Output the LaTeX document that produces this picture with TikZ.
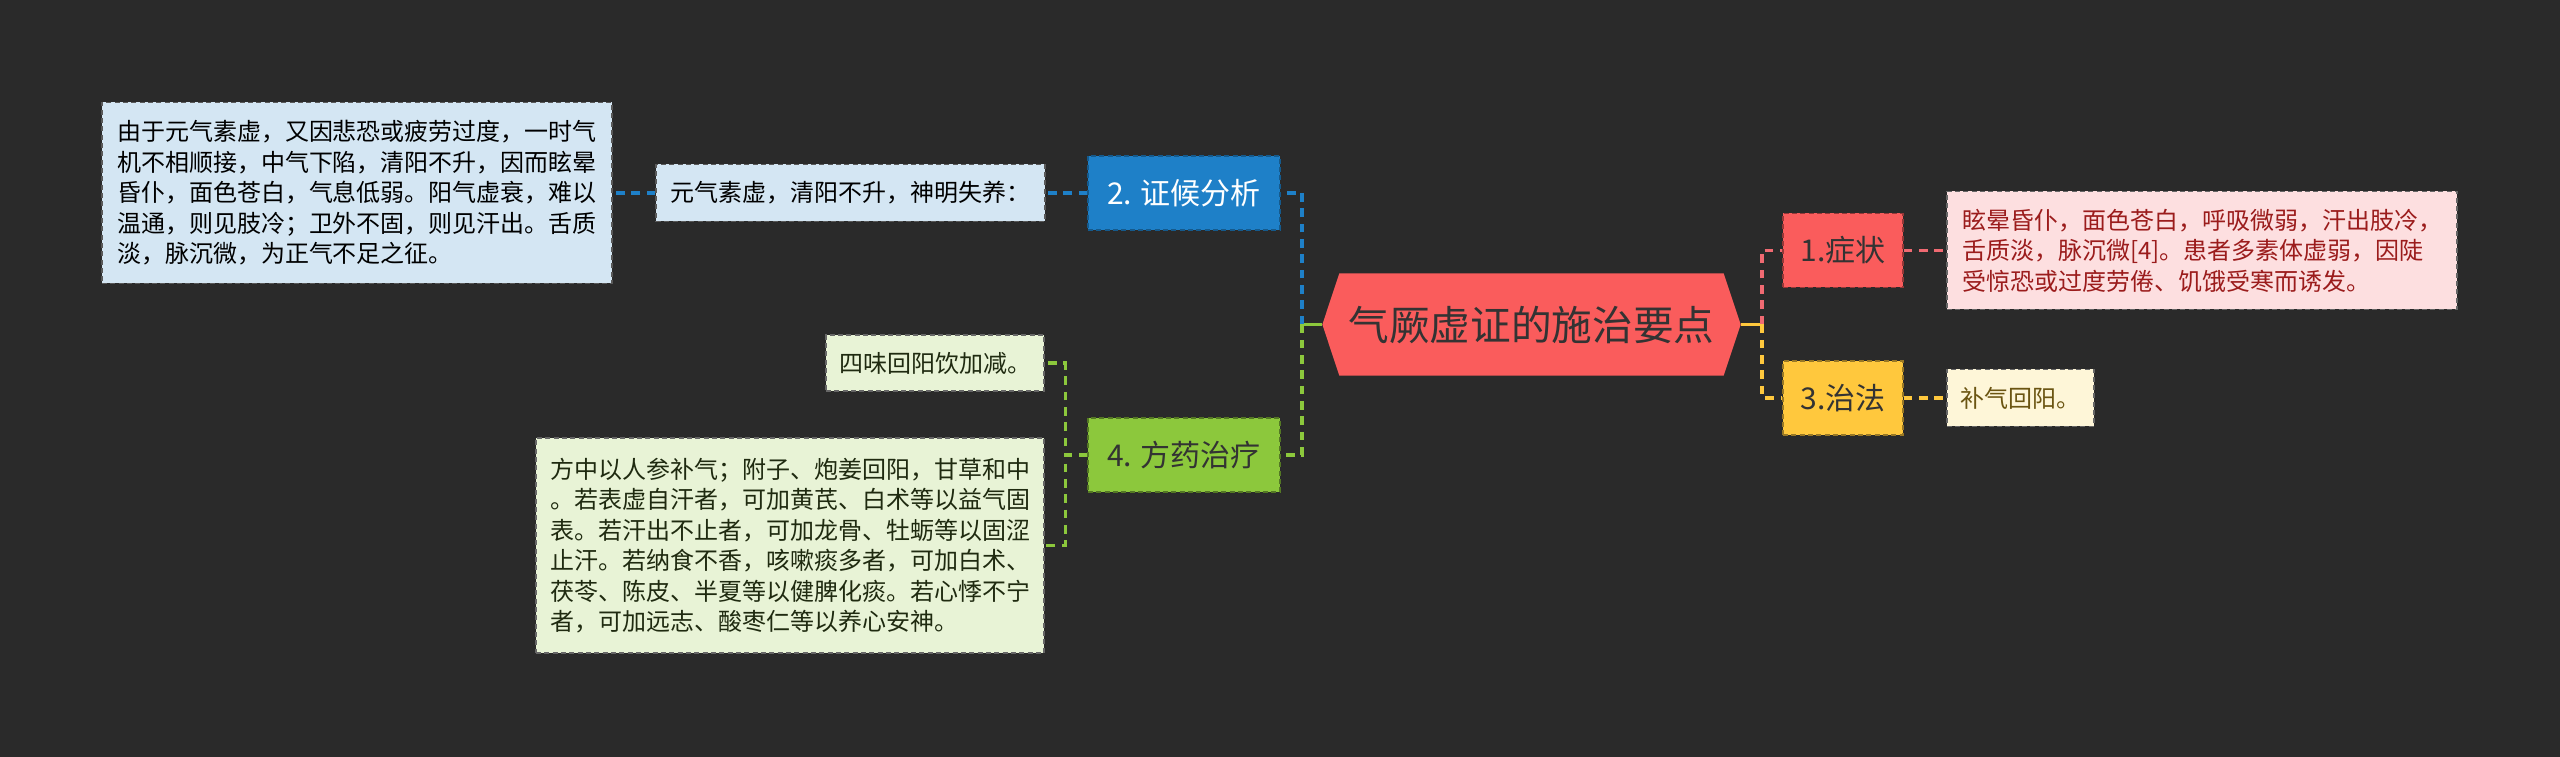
\documentclass[tikz,border=0pt]{standalone}
\usepackage{fontspec}
\setmainfont{Noto Sans CJK SC}
\usetikzlibrary{calc,backgrounds}
\definecolor{bg}{HTML}{2A2A2A}
\definecolor{cred}{HTML}{FA5C5C}
\definecolor{tblue}{HTML}{1E80C8}
\definecolor{tgreen}{HTML}{8CC83C}
\definecolor{tyellow}{HTML}{FFC83D}
\definecolor{tpink}{HTML}{F06A72}
\definecolor{lblue}{HTML}{D4E6F3}
\definecolor{lpink}{HTML}{FDDFE0}
\definecolor{lyellow}{HTML}{FEF6D8}
\definecolor{lgreen}{HTML}{E8F3D6}
\definecolor{darktext}{HTML}{333333}
\definecolor{pinktext}{HTML}{9B1C1C}
\definecolor{yelltext}{HTML}{6B5512}
\definecolor{greentext}{HTML}{1F2A10}
\tikzset{
  centraltext/.style={inner sep=0pt, minimum width=114.9pt, minimum height=30.3pt,
    text=darktext, font={\fontsize{12.2pt}{14pt}\selectfont}},
  topicbox/.style={inner sep=0pt, minimum height=22.2pt, line width=0.45pt,
    dash pattern=on 1.5pt off 1pt, font={\fontsize{9pt}{11pt}\selectfont}},
  leafbox/.style={inner sep=0pt, line width=0.45pt, dash pattern=on 1.5pt off 1pt,
    align=left, font={\fontsize{7.2pt}{9.15pt}\selectfont}},
  bluetopic/.style={topicbox, fill=tblue, draw=tblue!70!black, text=white},
  greentopic/.style={topicbox, fill=tgreen, draw=tgreen!60!black, text=darktext},
  redtopic/.style={topicbox, fill=cred, draw=cred!60!black, text=darktext},
  yellowtopic/.style={topicbox, fill=tyellow, draw=tyellow!60!black, text=darktext},
  blueleaf/.style={leafbox, fill=lblue, draw=black!65, text=black},
  pinkleaf/.style={leafbox, fill=lpink, draw=black!60, text=pinktext},
  yellowleaf/.style={leafbox, fill=lyellow, draw=black!60, text=yelltext},
  greenleaf/.style={leafbox, fill=lgreen, draw=black!60, text=greentext},
  con/.style={line width=1pt, dash pattern=on 2.6pt off 2pt},
  bluecon/.style={con, draw=tblue},
  greencon/.style={con, draw=tgreen},
  pinkcon/.style={con, draw=tpink},
  yellowcon/.style={con, draw=tyellow},
  solidcon/.style={line width=1pt},
}
\begin{document}
\begin{tikzpicture}[x=0.3pt,y=-0.3pt]
\useasboundingbox (0,0) rectangle (2560,757);
\begin{scope}[on background layer]
\fill[bg] (0,0) rectangle (2560,757);
\end{scope}

% central
\node[centraltext] (c) at (1531.5,324.5) {气厥虚证的施治要点};
\coordinate (cL) at ($(c.west)+(-17,0)$);
\coordinate (cR) at ($(c.east)+(17,0)$);
\begin{scope}[on background layer]
\fill[cred] (cL) -- (c.north west) -- (c.north east) -- (cR) -- (c.south east) -- (c.south west) -- cycle;
\end{scope}

% topics
\node[bluetopic, minimum width=57.6pt] (t2) at (1184,193) {2. 证候分析};
\node[greentopic, minimum width=57.6pt] (t4) at (1184,455) {4. 方药治疗};
\node[redtopic, minimum width=36pt] (t1) at (1843,250.5) {1.症状};
\node[yellowtopic, minimum width=36pt] (t3) at (1843,398) {3.治法};

% leaves
\node[blueleaf, minimum width=116.7pt, minimum height=17.1pt] (l2a) at (850.5,193) {元气素虚，清阳不升，神明失养：};
\node[blueleaf, minimum width=153pt, minimum height=54.3pt] (l2b) at (357,193) {由于元气素虚，又因悲恐或疲劳过度，一时气\\机不相顺接，中气下陷，清阳不升，因而眩晕\\昏仆，面色苍白，气息低弱。阳气虚衰，难以\\温通，则见肢冷；卫外不固，则见汗出。舌质\\淡，脉沉微，为正气不足之征。};
\node[pinkleaf, minimum width=153pt, minimum height=35.4pt] (l1) at (2202,250.5) {眩晕昏仆，面色苍白，呼吸微弱，汗出肢冷，\\舌质淡，脉沉微[4]。患者多素体虚弱，因陡\\受惊恐或过度劳倦、饥饿受寒而诱发。};
\node[yellowleaf, minimum width=44.1pt, minimum height=17.1pt] (l3) at (2020.5,398) {补气回阳。};
\node[greenleaf, minimum width=65.4pt, minimum height=16.8pt] (l4a) at (935,363) {四味回阳饮加减。};
\node[greenleaf, minimum width=152.4pt, minimum height=64.5pt] (l4b) at (790,545.5) {方中以人参补气；附子、炮姜回阳，甘草和中\\。若表虚自汗者，可加黄芪、白术等以益气固\\表。若汗出不止者，可加龙骨、牡蛎等以固涩\\止汗。若纳食不香，咳嗽痰多者，可加白术、\\茯苓、陈皮、半夏等以健脾化痰。若心悸不宁\\者，可加远志、酸枣仁等以养心安神。};

% junctions
\coordinate (jL) at (1302,324.5);
\coordinate (jR) at (1762,324.5);

\begin{scope}[on background layer]
\draw[solidcon, tgreen] (cL) -- (jL);
\draw[solidcon, tyellow] (cR) -- (jR);
\draw[bluecon] (jL) |- (t2.east);
\draw[greencon] (jL) |- (t4.east);
\draw[pinkcon] (jR) |- (t1.west);
\draw[yellowcon] (jR) |- (t3.west);
\draw[bluecon] (t2.west) -- (l2a.east);
\draw[bluecon] (l2a.west) -- (l2b.east);
\draw[pinkcon] (t1.east) -- (l1.west);
\draw[yellowcon] (t3.east) -- (l3.west);
\draw[greencon] (t4.west) -- ++(-22,0) |- (l4a.east);
\draw[greencon] (t4.west) -- ++(-22,0) |- (l4b.east);
\end{scope}
\end{tikzpicture}
\end{document}
